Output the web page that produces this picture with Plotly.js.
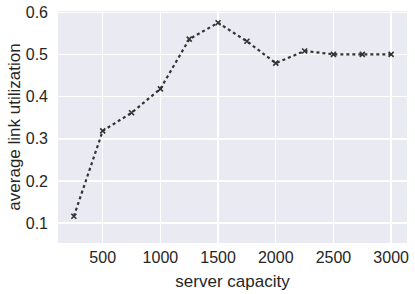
<!DOCTYPE html>
<html><head><meta charset="utf-8">
<script src="https://cdn.plot.ly/plotly-3.0.1.min.js"></script>
<style>html,body{margin:0;padding:0;background:#fff}</style>
</head><body>
<div id="chart" style="width:415px;height:294px"></div>
<script>
var serverCapacity = [250, 500, 750, 1000, 1250, 1500, 1750, 2000, 2250, 2500, 2750, 3000];
var avgLinkUtil = [0.116, 0.319, 0.362, 0.419, 0.537, 0.576, 0.532, 0.480, 0.509, 0.501, 0.501, 0.501];
var xTicks = [500, 1000, 1500, 2000, 2500, 3000];
var yTicks = [0.1, 0.2, 0.3, 0.4, 0.5, 0.6];

var trace = {
  x: serverCapacity, y: avgLinkUtil, type: 'scatter', mode: 'lines+markers',
  line: {color: '#333333', width: 2.2, dash: 'dot'},
  marker: {symbol: 'x-thin', size: 5, line: {color: '#333333', width: 1.6}, color: '#333333'},
  hoverinfo: 'none'
};
var fam = 'Liberation Sans, Arial, sans-serif';
var layout = {
  width: 415, height: 294,
  margin: {l: 58, r: 8, t: 11, b: 51},
  paper_bgcolor: '#ffffff', plot_bgcolor: '#EAEAF2',
  showlegend: false,
  font: {family: fam, size: 16, color: '#262626'},
  xaxis: {
    range: [112.5, 3137.5], tickvals: xTicks, ticktext: xTicks.map(String),
    showgrid: true, gridcolor: '#ffffff', gridwidth: 1.3, zeroline: false,
    showline: false, ticks: '', ticklen: 0, ticklabelstandoff: 3,
    tickfont: {size: 16, color: '#262626', family: fam},
    title: {text: 'server capacity', font: {size: 17, color: '#262626', family: fam}, standoff: 10}
  },
  yaxis: {
    range: [0.0525, 0.604], tickvals: yTicks, ticktext: yTicks.map(function(v){return v.toFixed(1);}),
    showgrid: true, gridcolor: '#ffffff', gridwidth: 1.3, zeroline: false,
    showline: false, ticks: '', ticklen: 0, ticklabelstandoff: 9,
    tickfont: {size: 16, color: '#262626', family: fam},
    title: {text: 'average link utilization', font: {size: 17, color: '#262626', family: fam}, standoff: 0}
  }
};
Plotly.newPlot('chart', [trace], layout, {staticPlot: true, displayModeBar: false});
</script>
</body></html>
